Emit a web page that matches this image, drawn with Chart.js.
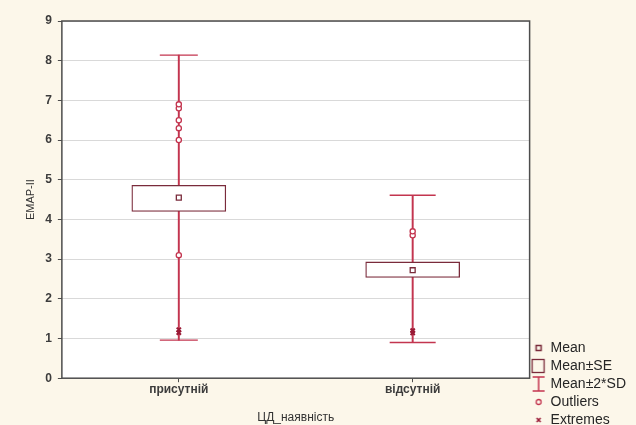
<!DOCTYPE html>
<html>
<head>
<meta charset="utf-8">
<script src="https://cdn.jsdelivr.net/npm/chart.js@4"></script>
<style>
  html, body { margin: 0; padding: 0; background: #fcf7ea; }
  #wrap { width: 636px; height: 425px; }
</style>
</head>
<body>
<div id="wrap"><canvas id="myChart" width="636" height="425"></canvas></div>
<script>
// values
const categories = ['присутній', 'відсутній'];
const means = [4.55, 2.72];
const seLow = [4.2, 2.54];
const seHigh = [4.86, 2.93];
const sdLow = [0.96, 0.9];
const sdHigh = [8.14, 4.61];
const outliers1 = [6.0, 6.3, 6.5, 6.8, 6.9, 3.1];
const outliers2 = [3.6, 3.7];
const extremes1 = [1.15, 1.22];
const extremes2 = [1.14, 1.2];
const yTicks = [0, 1, 2, 3, 4, 5, 6, 7, 8, 9];
const legendNames = ['Mean', 'Mean±SE', 'Mean±2*SD', 'Outliers', 'Extremes'];

const red = '#c3354f';
const maroon = '#7a2b3b';
const capHalf = [19, 23];

function icon(w, h, draw) {
  const c = document.createElement('canvas');
  c.width = w; c.height = h;
  const g = c.getContext('2d');
  draw(g);
  return c;
}
const legendIcons = [
  icon(14, 8, g => { g.strokeStyle = maroon; g.lineWidth = 1.5; g.strokeRect(4.5, 1.5, 5, 5); }),
  icon(16, 16, g => { g.strokeStyle = maroon; g.lineWidth = 1.3; g.strokeRect(1.5, 1.5, 12, 13); }),
  icon(16, 16, g => {
    g.strokeStyle = red; g.lineWidth = 1.5;
    g.beginPath();
    g.moveTo(2, 1); g.lineTo(14, 1);
    g.moveTo(8, 1); g.lineTo(8, 15);
    g.moveTo(2, 15); g.lineTo(14, 15);
    g.stroke();
  }),
  icon(14, 8, g => { g.strokeStyle = red; g.lineWidth = 1.3; g.beginPath(); g.arc(7, 4, 2.5, 0, Math.PI * 2); g.stroke(); }),
  icon(14, 8, g => {
    g.strokeStyle = '#9a1a36'; g.lineWidth = 1.6;
    g.beginPath(); g.moveTo(5, 2); g.lineTo(9, 6); g.moveTo(9, 2); g.lineTo(5, 6); g.stroke();
  })
];

const capPoints = [];
const capRadius = [];
categories.forEach((c, i) => {
  capPoints.push({ x: c, y: sdHigh[i] }, { x: c, y: sdLow[i] });
  capRadius.push(capHalf[i], capHalf[i]);
});

const outlierPoints = outliers1.map(v => ({ x: categories[0], y: v }))
  .concat(outliers2.map(v => ({ x: categories[1], y: v })));
const extremePoints = extremes1.map(v => ({ x: categories[0], y: v }))
  .concat(extremes2.map(v => ({ x: categories[1], y: v })));

const backPlugin = {
  id: 'back',
  afterLayout(chart) {
    // legend column sits a bit lower in the reference
    if (chart.legend) chart.legend.bottom += 6;
  },
  beforeDraw(chart) {
    const { ctx, chartArea: a } = chart;
    ctx.save();
    ctx.fillStyle = '#fcf7ea';
    ctx.fillRect(0, 0, chart.width, chart.height);
    ctx.fillStyle = '#ffffff';
    ctx.fillRect(a.left, a.top, a.right - a.left, a.bottom - a.top);
    ctx.restore();
  },
  afterDraw(chart) {
    const { ctx, chartArea: a } = chart;
    ctx.save();
    ctx.strokeStyle = '#4d4d4d';
    ctx.lineWidth = 1.5;
    ctx.strokeRect(a.left, a.top, a.right - a.left, a.bottom - a.top);
    ctx.restore();
  }
};

const config = {
  type: 'bar',
  data: {
    labels: categories,
    datasets: [
      {
        label: 'Mean±2*SD',
        data: categories.map((c, i) => [sdLow[i], sdHigh[i]]),
        backgroundColor: red,
        borderWidth: 0,
        barThickness: 1.3,
        grouped: false,
        order: 4
      },
      {
        label: 'Mean±SE',
        data: categories.map((c, i) => [seLow[i], seHigh[i]]),
        backgroundColor: '#ffffff',
        borderColor: maroon,
        borderWidth: 1.3,
        borderSkipped: false,
        barThickness: 94,
        grouped: false,
        order: 3
      },
      {
        type: 'line',
        label: 'caps',
        data: capPoints,
        showLine: false,
        pointStyle: 'line',
        pointRadius: capRadius,
        borderColor: red,
        borderWidth: 1.4,
        order: 2
      },
      {
        type: 'line',
        label: 'Mean',
        data: categories.map((c, i) => ({ x: c, y: means[i] })),
        showLine: false,
        pointStyle: 'rect',
        pointRadius: 3.5,
        pointBackgroundColor: '#ffffff',
        pointBorderColor: maroon,
        pointBorderWidth: 1.3,
        order: 1
      },
      {
        type: 'line',
        label: 'Outliers',
        data: outlierPoints,
        showLine: false,
        pointStyle: 'circle',
        pointRadius: 2.6,
        pointBackgroundColor: '#ffffff',
        pointBorderColor: red,
        pointBorderWidth: 1.3,
        order: 1
      },
      {
        type: 'line',
        label: 'Extremes',
        data: extremePoints,
        showLine: false,
        pointStyle: 'crossRot',
        pointRadius: 3,
        pointBorderColor: '#9a1a36',
        pointBorderWidth: 2,
        order: 1
      }
    ]
  },
  options: {
    responsive: false,
    animation: false,
    events: [],
    layout: { autoPadding: false, padding: { left: 24, top: 21, right: 0, bottom: 0 } },
    scales: {
      x: {
        offset: true,
        grid: { display: true, drawOnChartArea: false, offset: false, tickLength: 4, color: '#4d4d4d' },
        border: { display: false },
        ticks: { color: '#3c3c3c', font: { family: 'Liberation Sans', size: 12, weight: 'bold' }, padding: 0 },
        title: {
          display: true,
          text: 'ЦД_наявність',
          color: '#333333',
          font: { family: 'Liberation Sans', size: 12 },
          padding: { top: 14, bottom: 0 }
        }
      },
      y: {
        min: 0,
        max: 9,
        afterBuildTicks: axis => { axis.ticks = yTicks.map(v => ({ value: v })); },
        grid: { color: '#d9d9d9', lineWidth: 1, tickLength: 4, tickColor: '#4d4d4d' },
        border: { display: false },
        ticks: { color: '#3c3c3c', font: { family: 'Liberation Sans', size: 12, weight: 'bold' }, padding: 6 },
        title: {
          display: true,
          text: 'EMAP-II',
          color: '#333333',
          font: { family: 'Liberation Sans', size: 11 },
          padding: { top: 0, bottom: 2 }
        }
      }
    },
    plugins: {
      tooltip: { enabled: false },
      legend: {
        position: 'right',
        align: 'end',
        labels: {
          usePointStyle: true,
          boxHeight: 13,
          pointStyleWidth: 10,
          padding: 4,
          color: '#262626',
          font: { family: 'Liberation Sans', size: 14 },
          generateLabels: () => legendNames.map((n, i) => ({
            text: n,
            pointStyle: legendIcons[i],
            fillStyle: 'transparent',
            strokeStyle: 'transparent',
            lineWidth: 0,
            hidden: false,
            fontColor: '#262626',
            datasetIndex: i
          }))
        }
      }
    }
  },
  plugins: [backPlugin]
};

const myChart = new Chart(document.getElementById('myChart'), config);
</script>
</body>
</html>
